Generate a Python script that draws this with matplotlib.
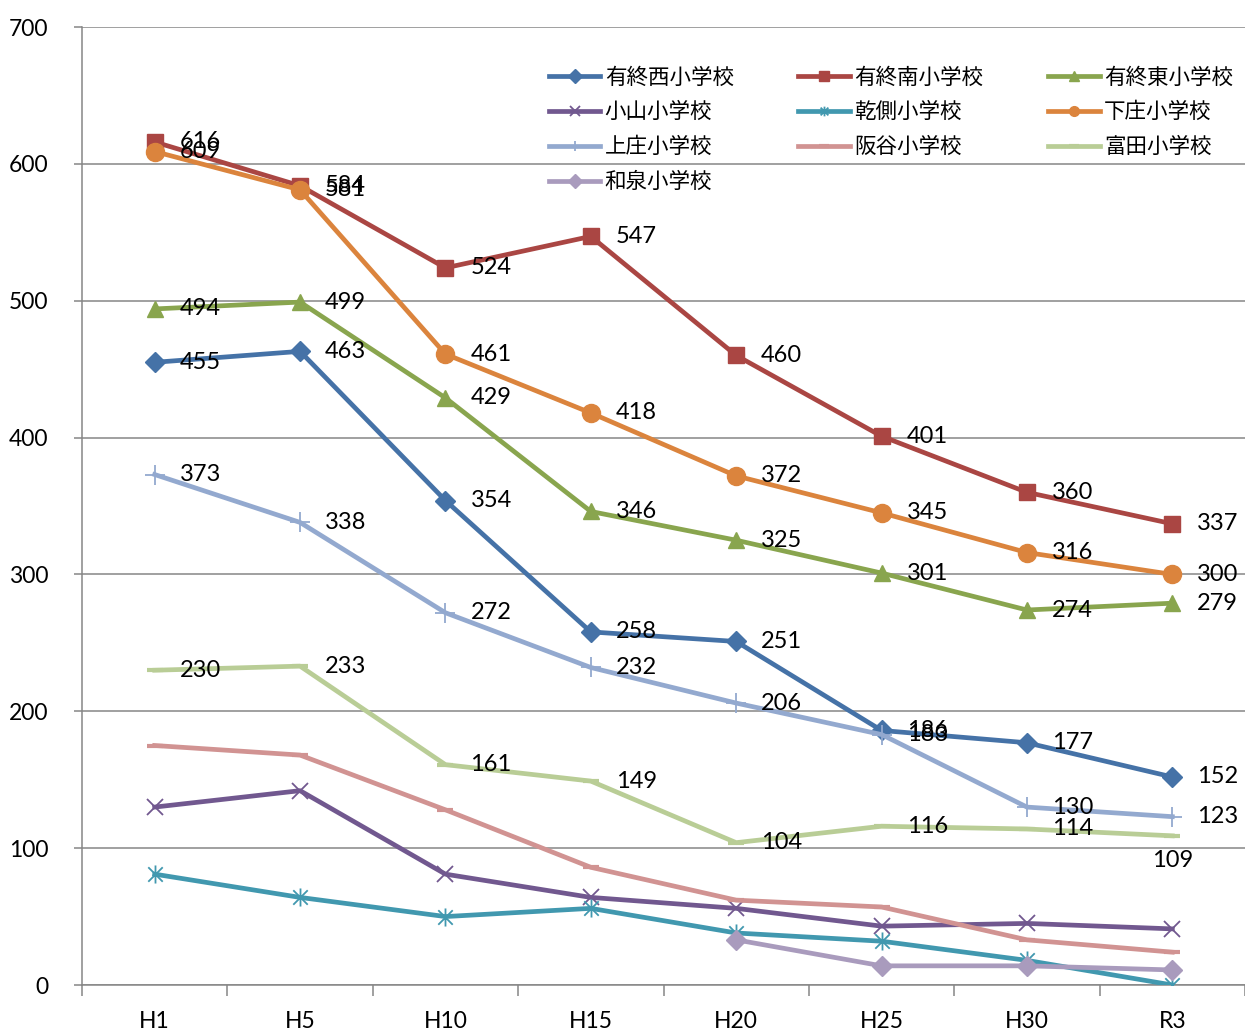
import matplotlib
matplotlib.use("Agg")
import matplotlib.pyplot as plt
import numpy as np
from matplotlib.path import Path

plt.rcParams['font.family'] = ['Lato', 'Noto Sans CJK JP', 'DejaVu Sans']

years = ['H1', 'H5', 'H10', 'H15', 'H20', 'H25', 'H30', 'R3']

schools = ['有終西小学校', '有終南小学校', '有終東小学校', '小山小学校', '乾側小学校',
           '下庄小学校', '上庄小学校', '阪谷小学校', '富田小学校', '和泉小学校']

yusyu_nishi = [455, 463, 354, 258, 251, 186, 177, 152]
yusyu_minami = [616, 584, 524, 547, 460, 401, 360, 337]
yusyu_higashi = [494, 499, 429, 346, 325, 301, 274, 279]
koyama = [130, 142, 81, 64, 56, 43, 45, 41]
inukai = [81, 64, 50, 56, 38, 32, 18, 0]
shimosho = [609, 581, 461, 418, 372, 345, 316, 300]
kamisho = [373, 338, 272, 232, 206, 183, 130, 123]
sakadani = [175, 168, 128, 86, 62, 57, 33, 24]
tonda = [230, 233, 161, 149, 104, 116, 114, 109]
izumi = [None, None, None, None, 33, 14, 14, 11]

series = [yusyu_nishi, yusyu_minami, yusyu_higashi, koyama, inukai,
          shimosho, kamisho, sakadani, tonda, izumi]

colors = ['#4572A7', '#AA4643', '#89A54E', '#71588F', '#4198AF',
          '#DB843D', '#93A9CF', '#D19392', '#B9CD96', '#A99BBD']

star = Path([(0, -1), (0, 1), (-0.8, -0.8), (0.8, 0.8), (-0.8, 0.8), (0.8, -0.8)],
            [Path.MOVETO, Path.LINETO, Path.MOVETO, Path.LINETO, Path.MOVETO, Path.LINETO])

styles = [
    dict(marker='D', ms=10),
    dict(marker='s', ms=11),
    dict(marker='^', ms=12),
    dict(marker='x', ms=12, mew=1.3),
    dict(marker=star, ms=13, mew=1.3),
    dict(marker='o', ms=13),
    dict(marker='+', ms=14, mew=1.3),
    dict(marker='_', ms=12, mew=3),
    dict(marker='_', ms=12, mew=3),
    dict(marker='D', ms=10),
]

labeled = {0, 1, 2, 5, 6, 8}

fig = plt.figure(figsize=(12.45, 10.30), dpi=100)
ax = fig.add_axes([82 / 1245, 45 / 1030, 1 - 82 / 1245, 958 / 1030])

x = np.arange(len(years))
handles = []
for i, vals in enumerate(series):
    v = np.array([np.nan if a is None else a for a in vals], dtype=float)
    h, = ax.plot(x, v, color=colors[i], lw=3.4, label=schools[i], zorder=3,
                 mec=colors[i], mfc=colors[i], **styles[i])
    handles.append(h)
    if i in labeled:
        for xi, yi in zip(x, v):
            if np.isnan(yi):
                continue
            if i == 8 and xi == 7:
                ax.annotate(f'{int(yi)}', (xi, yi), xytext=(0, -18), textcoords='offset points',
                            ha='center', va='center', fontsize=17, zorder=5)
            else:
                ax.annotate(f'{int(yi)}', (xi, yi), xytext=(18, 0), textcoords='offset points',
                            ha='left', va='center', fontsize=17, zorder=5)

ax.set_ylim(0, 700)
ax.set_yticks(range(0, 701, 100))
ax.set_xlim(-0.5, 7.5 - 5 / 146)
ax.set_xticks(x)
ax.set_xticklabels(years)
ax.set_xticks(np.arange(-0.5, 8, 1), minor=True)

grey = '#868686'
ax.grid(axis='y', color=grey, lw=1.1, zorder=0)
ax.set_axisbelow(True)
for s in ['top', 'right']:
    ax.spines[s].set_visible(False)
for s in ['left', 'bottom']:
    ax.spines[s].set_color(grey)
    ax.spines[s].set_linewidth(1.1)

ax.tick_params(axis='y', length=6, color=grey, width=1.1, labelsize=16.5, pad=18)
ax.tick_params(axis='x', which='major', length=0, labelsize=16.5, pad=19)
ax.tick_params(axis='x', which='minor', length=8, color=grey, width=1.1)

order = [0, 3, 6, 9, 1, 4, 7, 2, 5, 8]
leg = ax.legend([handles[k] for k in order], [schools[k] for k in order],
                ncol=3, loc='upper left', bbox_to_anchor=(456 / 1163, 0.970),
                frameon=False, fontsize=15.5, handlelength=2.4, handletextpad=0.2,
                columnspacing=3.0, labelspacing=0.6, borderpad=0)
for t in leg.get_texts():
    t.set_family(['Noto Sans CJK JP', 'DejaVu Sans'])
for lh in leg.legend_handles:
    lh.set_markersize(7)

fig.savefig('out.png', dpi=100)
